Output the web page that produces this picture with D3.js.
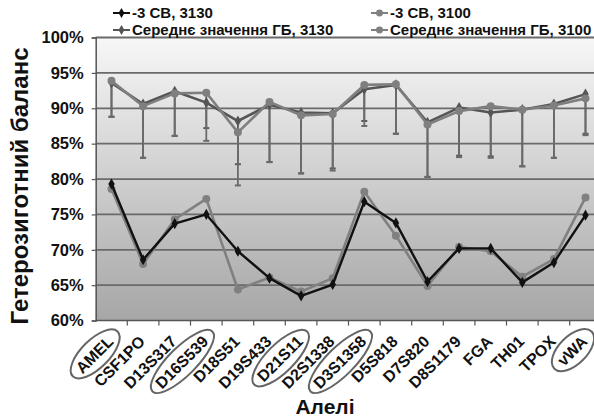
<!DOCTYPE html>
<html><head><meta charset="utf-8">
<script src="https://cdn.jsdelivr.net/npm/d3@7"></script>
<style>html,body{margin:0;padding:0;background:#fff;}svg{display:block;font-family:"Liberation Sans",Arial,sans-serif;}</style>
</head><body><svg id="c" width="594" height="418"></svg>
<script>
const alleles = ["AMEL","CSF1PO","D13S317","D16S539","D18S51","D19S433","D21S11","D2S1338","D3S1358","D5S818","D7S820","D8S1179","FGA","TH01","TPOX","vWA"];
const circled = ["AMEL","D16S539","D21S11","D3S1358","vWA"];
const cb3130 = [79.3,68.6,73.7,75.0,69.8,66.0,63.5,65.1,76.8,73.8,65.5,70.2,70.2,65.4,68.2,74.9];
const cb3100 = [78.6,68.0,74.3,77.2,64.4,66.1,64.1,66.0,78.2,72.0,64.9,70.4,69.8,66.2,68.7,77.4];
const mean3130 = [93.6,90.6,92.4,90.8,88.2,90.5,89.4,89.3,92.7,93.3,88.0,90.1,89.4,89.8,90.6,92.0];
const mean3100 = [93.9,90.3,92.1,92.2,86.6,90.9,89.0,89.2,93.3,93.4,87.7,89.6,90.3,89.8,90.4,91.4];
const low3130 = [88.8,83.0,86.1,87.2,82.1,82.4,80.8,81.5,88.2,86.4,80.3,83.3,83.2,81.8,83.0,86.4];
const low3100 = [88.8,83.0,86.1,85.4,79.1,82.4,80.8,81.2,87.5,86.4,80.3,83.1,83.0,81.8,83.0,86.2];
const yTicks = [60,65,70,75,80,85,90,95,100];
const legendLabels = ["-3 СВ, 3130","-3 СВ, 3100","Середнє значення ГБ, 3130","Середнє значення ГБ, 3100"];

const svg = d3.select("#c");
const x = d3.scaleBand().domain(alleles).range([95.7, 601.3]);
const y = d3.scaleLinear().domain([60,100]).range([320.6, 37.5]);
const cx = d => x(d) + x.bandwidth()/2;

const defs = svg.append("defs");
const grad = defs.append("linearGradient").attr("id","bg").attr("x1",0).attr("y1",0).attr("x2",0).attr("y2",1);
grad.append("stop").attr("offset","0%").attr("stop-color","#f7f7f7");
grad.append("stop").attr("offset","100%").attr("stop-color","#a6a6a6");

svg.append("rect").attr("x",x.range()[0]).attr("y",y(100)).attr("width",x.range()[1]-x.range()[0]).attr("height",y(60)-y(100)).attr("fill","url(#bg)");

// gridlines
svg.append("g").selectAll("line").data(yTicks.filter(t=>t>60)).join("line")
  .attr("x1",x.range()[0]).attr("x2",594).attr("y1",d=>y(d)).attr("y2",d=>y(d))
  .attr("stroke","#6a6a6a").attr("stroke-width",1.8);

// y axis
const ya = svg.append("g").attr("transform",`translate(${x.range()[0]},0)`)
  .call(d3.axisLeft(y).tickValues(yTicks).tickFormat(d=>d+"%").tickSize(4).tickPadding(8));
ya.select(".domain").attr("stroke","#555").attr("stroke-width",1.5);
ya.selectAll(".tick line").attr("stroke","#555").attr("stroke-width",1.2);
ya.selectAll("text").attr("font-size",16.5).attr("font-weight","bold").attr("fill","#111").attr("font-family","Liberation Sans, Arial, sans-serif");

// x axis line and ticks at band boundaries
svg.append("line").attr("x1",x.range()[0]).attr("x2",594).attr("y1",y(60)).attr("y2",y(60)).attr("stroke","#555").attr("stroke-width",1.5);
svg.append("g").selectAll("line").data(alleles.slice(1)).join("line")
  .attr("x1",d=>x(d)).attr("x2",d=>x(d)).attr("y1",y(60)).attr("y2",y(60)+5).attr("stroke","#555").attr("stroke-width",1.2);

// error bars
function errBars(mean, low, color){
  const g = svg.append("g").attr("stroke",color).attr("stroke-width",1.8);
  alleles.forEach((a,i)=>{
    g.append("line").attr("x1",cx(a)).attr("x2",cx(a)).attr("y1",y(mean[i])).attr("y2",y(low[i]));
    g.append("line").attr("x1",cx(a)-3).attr("x2",cx(a)+3).attr("y1",y(low[i])).attr("y2",y(low[i])).attr("stroke-width",2);
  });
}
errBars(mean3130, low3130, "#5a5a5a");
errBars(mean3100, low3100, "#6a6a6a");

const line = d3.line().x((d,i)=>cx(alleles[i])).y(d=>y(d));
function series(vals, color, shape, w){
  svg.append("path").datum(vals).attr("d",line).attr("fill","none").attr("stroke",color).attr("stroke-width",w).attr("stroke-linejoin","round");
  const sym = d3.symbol().type(shape==="diamond"?d3.symbolDiamond:d3.symbolCircle).size(shape==="diamond"?36:50);
  svg.append("g").selectAll("path").data(vals).join("path")
    .attr("transform",(d,i)=>`translate(${cx(alleles[i])},${y(d)})`).attr("d",sym).attr("fill",color);
}
series(mean3130, "#555555", "diamond", 2.6);
series(mean3100, "#7f7f7f", "circle", 2.6);
series(cb3100, "#808080", "circle", 2.6);
series(cb3130, "#111111", "diamond", 2.4);

// x labels
const lg = svg.append("g");
alleles.forEach(a=>{
  const g = lg.append("g").attr("transform",`translate(${cx(a)-1},${y(60)+18}) rotate(-45)`);
  const t = g.append("text").attr("text-anchor","end").attr("font-size",16).attr("font-weight","bold").attr("fill","#111").attr("dy","0.35em").text(a);
  if(circled.includes(a)){
    const w = t.node().getComputedTextLength();
    g.insert("ellipse","text").attr("cx",-w/2+1).attr("cy",0).attr("rx",w/2+9).attr("ry",14)
      .attr("fill","none").attr("stroke","#666").attr("stroke-width",2);
  }
});

// axis titles
svg.append("text").attr("x",325).attr("y",414).attr("text-anchor","middle").attr("font-size",21).attr("font-weight","bold").attr("fill","#111").text("Алелі");
svg.append("text").attr("transform","translate(28,186) rotate(-90)").attr("text-anchor","middle").attr("font-size",24).attr("font-weight","bold").attr("fill","#111").text("Гетерозиготний баланс");

// legend
const legItems = [
  {label:legendLabels[0], color:"#111111", shape:"diamond", x:113, y:13},
  {label:legendLabels[1], color:"#808080", shape:"circle", x:371, y:13},
  {label:legendLabels[2], color:"#555555", shape:"diamond", x:113, y:30},
  {label:legendLabels[3], color:"#7f7f7f", shape:"circle", x:371, y:30}
];
legItems.forEach(it=>{
  const g = svg.append("g").attr("transform",`translate(${it.x},${it.y})`);
  g.append("line").attr("x1",0).attr("x2",17).attr("y1",0).attr("y2",0).attr("stroke",it.color).attr("stroke-width",2);
  g.append("path").attr("transform","translate(8.5,0)").attr("d",d3.symbol().type(it.shape==="diamond"?d3.symbolDiamond:d3.symbolCircle).size(it.shape==="diamond"?30:38)()).attr("fill",it.color);
  g.append("text").attr("x",19).attr("dy","0.36em").attr("font-size",15).attr("font-weight","bold").attr("fill","#111").text(it.label);
});
</script></body></html>
